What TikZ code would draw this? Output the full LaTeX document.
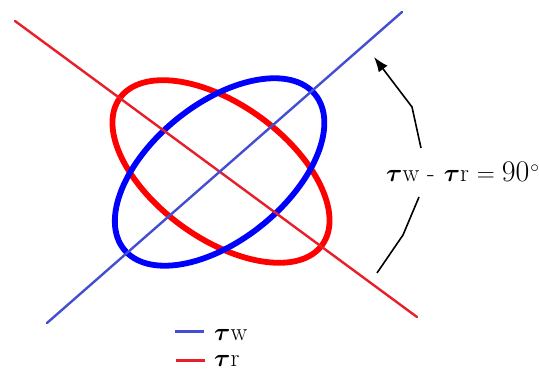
\documentclass[tikz,border=0pt]{standalone}
\usepackage{amsmath}
\usepackage{tikz}
\usetikzlibrary{positioning, arrows.meta}

\definecolor{wbeam}{RGB}{68,78,210}
\definecolor{rbeam}{RGB}{232,30,40}
\definecolor{wloop}{RGB}{0,0,255}
\definecolor{rloop}{RGB}{255,0,0}

\newcommand{\bigtau}[1]{{\fontsize{#1}{#1}\selectfont$\boldsymbol{\tau}$}}

\begin{document}
\begin{tikzpicture}[
    x=1pt, y=1pt,
    beam/.style={
        line width=2.4pt,
        line cap=round
    },
    loop/.style={
        line width=5.8pt
    },
    lbl/.style={
        inner sep=0pt,
        font=\fontsize{25}{28}\selectfont
    },
    arrow/.style={
        -{Latex[length=15pt,width=11pt]},
        line width=1.6pt
    }
]

\useasboundingbox (0,0) rectangle (539,372);

\draw[loop, rloop, rotate around={-36:(221,200.5)}] (221,200.5) ellipse (125 and 67);
\draw[loop, wloop, rotate around={39:(219.6,200)}] (219.6,200) ellipse (123 and 68);

\coordinate (wlow) at (47,49);
\coordinate (whigh) at (402,360);
\coordinate (rhigh) at (15,351);
\coordinate (rlow) at (417,55);
\draw[beam, rbeam] (rhigh) -- (rlow);
\draw[beam, wbeam] (wlow) -- (whigh);

\node[lbl, anchor=base west] (diff) at (386,190.5)
    {\bigtau{44}w\hspace{8pt}-\hspace{9pt}\bigtau{44}r\hspace{8pt}=\hspace{7pt}{\fontsize{30}{30}\selectfont 90}\hspace{1pt}$^\circ$};

\coordinate (upstart) at (421,224);
\coordinate (upbend) at (412,265);
\coordinate (uptip) at (374,315);
\coordinate (downstart) at (419,175);
\coordinate (downbend) at (403,137);
\coordinate (downend) at (377,99);
\draw[arrow] (upstart) -- (upbend) -- (uptip);
\draw[line width=1.6pt] (downstart) -- (downbend) -- (downend);

\node[lbl, anchor=base west] (legw) at (214,31) {\bigtau{40}w};
\node[lbl, anchor=base west] (legr) at (214,5) {\bigtau{40}r};
\draw[line width=3pt, wbeam] (175,40) -- (204,40);
\draw[line width=3pt, rbeam] (176,11) -- (205,11);

\end{tikzpicture}
\end{document}
